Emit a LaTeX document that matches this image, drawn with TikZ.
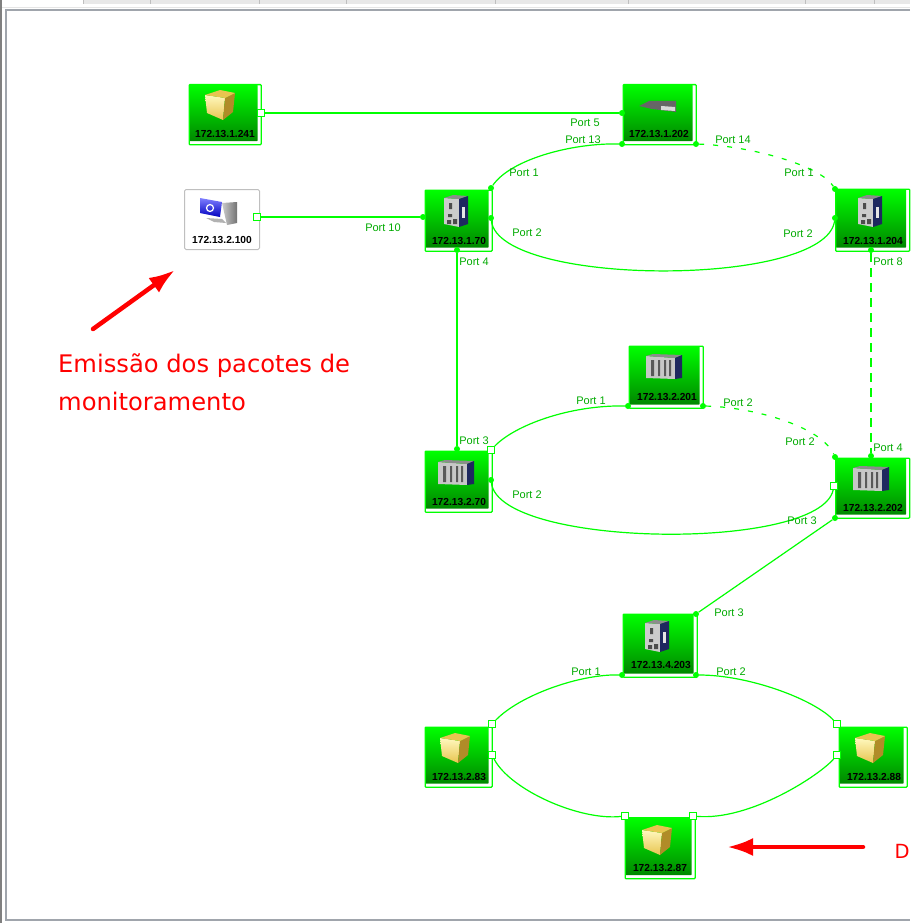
\documentclass[tikz,border=0pt]{standalone}
\usepackage{fontspec}
\setmainfont{Liberation Sans}
\newfontfamily\notefont{DejaVu Sans}
\usetikzlibrary{arrows.meta}
\definecolor{linkgreen}{RGB}{0,255,0}
\definecolor{portgreen}{RGB}{0,170,0}
\definecolor{framegray}{RGB}{160,165,172}
\definecolor{tabgray}{RGB}{232,232,232}
\definecolor{cubelight}{RGB}{255,248,190}
\definecolor{cubemid}{RGB}{232,196,80}
\definecolor{cubedark}{RGB}{176,140,40}
\definecolor{rackblue}{RGB}{30,40,95}
\begin{document}
\begin{tikzpicture}[
        x=1pt, y=-1pt,
        hostbox/.style={rectangle, draw=linkgreen, line width=1.3pt, rounded corners=.8pt, fill=white, anchor=north west, inner sep=0pt,
            path picture={\shade[top color=linkgreen, bottom color=green!50!black] (path picture bounding box.north west) rectangle ([xshift=-3.5pt,yshift=3.5pt]path picture bounding box.south east);}},
        pcbox/.style={rectangle, draw=black!25, line width=1pt, rounded corners=1.5pt, fill=white, anchor=north west, inner sep=0pt},
        hostlabel/.style={font=\fontsize{10.2}{11}\selectfont\bfseries, text=black, inner sep=0pt},
        portlabel/.style={font=\fontsize{11}{12}\selectfont, text=portgreen, inner sep=0pt},
        portdot/.style={circle, fill=linkgreen, minimum size=6pt, inner sep=0pt},
        portopen/.style={rectangle, draw=linkgreen, fill=white, line width=1.2pt, minimum size=6.5pt, inner sep=0pt},
        link/.style={draw=linkgreen, line width=1.2pt},
        linkdash/.style={link, dash pattern=on 5pt off 9pt},
        callout/.style={draw=red, line width=4.5pt, line cap=round, -{Latex[length=26pt,width=18pt]}},
        note/.style={font=\fontsize{24.2}{28}\selectfont\notefont, text=red, inner sep=0pt, anchor=west},
        pics/cube/.style={code={
            \shade[top color=cubelight, bottom color=cubemid] (-15,-10) -- (5,-7) -- (3,15) -- (-13,8) -- cycle;
            \fill[cubedark] (5,-7) -- (15,-12) -- (13,7) -- (3,15) -- cycle;
            \fill[cubemid] (-15,-10) -- (0,-15) -- (15,-12) -- (5,-7) -- cycle;
        }},
        pics/rack/.style={code={
            \fill[black!22] (-17,-12) -- (12,-10) -- (12,11) -- (-17,10) -- cycle;
            \fill[black!45] (-17,-12) -- (-10,-14) -- (19,-13) -- (12,-10) -- cycle;
            \fill[black!65] (-12,-8) rectangle (-9,8) (-5,-8) rectangle (-3,8) (1,-8) rectangle (3,8) (6,-8) rectangle (8,8);
            \fill[rackblue] (12,-10) -- (19,-13) -- (19,10) -- (12,11) -- cycle;
        }},
        pics/din/.style={code={
            \fill[black!20] (-12,-14) -- (3,-13) -- (3,15) -- (-12,12) -- cycle;
            \fill[black!45] (-12,-14) -- (-3,-17) -- (12,-16) -- (3,-13) -- cycle;
            \fill[rackblue] (3,-13) -- (12,-16) -- (12,12) -- (3,15) -- cycle;
            \fill[black!10] (6,-5) rectangle (9,6);
            \fill[black!70] (-7,-9) rectangle (-4,-3) (-8,2) rectangle (-4,5) (-9,8) rectangle (-5,12) (-3,7) rectangle (1,12);
        }},
        pics/flatswitch/.style={code={
            \fill[black!60] (-18,0) -- (-8,-5) -- (19,-5) -- (19,6) -- (-5,3) -- cycle;
            \fill[black!15] (4,0) -- (18,1) -- (18,5) -- (4,4) -- cycle;
        }},
        pics/monitor/.style={code={
            \shade[left color=black!20, right color=black!55] (4,-8) -- (19,-9) -- (19,12) -- (9,14) -- cycle;
            \fill[black!30] (-12,7) -- (4,8) -- (8,12) -- (-4,11) -- cycle;
            \shade[top color=blue!50!white, bottom color=blue!75!black] (-18,-13) -- (4,-9) -- (2,6) -- (-18,2) -- cycle;
            \draw[white, line width=1.2pt] (-8,-3) circle (3.5);
        }}
    ]
    \useasboundingbox (0,0) rectangle (910,923);

    % Window frame
    \fill[tabgray] (83,0) rectangle (910,4);
    \foreach \tabx in {83,150,259,346,495,628,805,874}
        \draw[black!25, line width=.6pt] (\tabx,0) -- (\tabx,4);
    \draw[black!10, line width=.8pt] (0,7) -- (910,7);
    \draw[framegray, line width=2pt] (910,10.5) -- (6,10.5) -- (6,920) -- (910,920);
    \draw[black!50, line width=2pt] (1,0) -- (1,923);

    % Hosts on top
    \node[hostbox, minimum width=72pt, minimum height=60pt] (hostA) at (188.5,84) {};
    \node[hostbox, minimum width=73pt, minimum height=60pt] (hostB) at (622.5,84) {};
    \node[pcbox, minimum width=75pt, minimum height=60pt] (monitorpc) at (184,189) {};
    \node[hostbox, minimum width=67pt, minimum height=61pt] (ringoneA) at (424.5,189.5) {};
    \node[hostbox, minimum width=74pt, minimum height=62pt] (ringoneB) at (835,188.5) {};

    % Middle ring
    \node[hostbox, minimum width=74pt, minimum height=62pt] (ringtwoT) at (628.5,345.5) {};
    \node[hostbox, minimum width=67pt, minimum height=61pt] (ringtwoA) at (424.5,450.5) {};
    \node[hostbox, minimum width=74pt, minimum height=60pt] (ringtwoB) at (835,457.5) {};

    % Bottom ring
    \node[hostbox, minimum width=74pt, minimum height=63pt] (ringthreeT) at (622.5,613.5) {};
    \node[hostbox, minimum width=67pt, minimum height=60pt] (ringthreeA) at (424.5,726.5) {};
    \node[hostbox, minimum width=68pt, minimum height=60pt] (ringthreeB) at (838.5,726.5) {};
    \node[hostbox, minimum width=70pt, minimum height=61pt] (ringthreeC) at (624.5,817) {};

    % Icons
    \pic at (220,105) {cube};
    \pic at (657,106) {flatswitch};
    \pic at (218,211) {monitor};
    \pic at (456,212) {din};
    \pic at (870,212) {din};
    \pic at (663,368) {rack};
    \pic at (455,474) {rack};
    \pic at (870,480) {rack};
    \pic at (657,637) {din};
    \pic at (455,748) {cube};
    \pic at (870,748) {cube};
    \pic at (657,840) {cube};

    % Host labels
    \node[hostlabel] (labelA) at (225,134) {172.13.1.241};
    \node[hostlabel] (labelB) at (659,134) {172.13.1.202};
    \node[hostlabel] (labelpc) at (222,240) {172.13.2.100};
    \node[hostlabel] (labelC) at (459,241) {172.13.1.70};
    \node[hostlabel] (labelD) at (873,241) {172.13.1.204};
    \node[hostlabel] (labelE) at (667,397) {172.13.2.201};
    \node[hostlabel] (labelF) at (459,502) {172.13.2.70};
    \node[hostlabel] (labelG) at (873,508) {172.13.2.202};
    \node[hostlabel] (labelH) at (661,665) {172.13.4.203};
    \node[hostlabel] (labelI) at (459,777) {172.13.2.83};
    \node[hostlabel] (labelJ) at (874,777) {172.13.2.88};
    \node[hostlabel] (labelK) at (660,868) {172.13.2.87};

    % Ports
    \node[portopen] (pA) at (261,113) {};
    \node[portdot] (pB) at (622,113) {};
    \node[portopen] (pC) at (257,217) {};
    \node[portdot] (pD) at (423,217) {};
    \node[portdot] (pE) at (491,188) {};
    \node[portdot] (pF) at (491,218) {};
    \node[portdot] (pG) at (457,250) {};
    \node[portdot] (pH) at (622,144) {};
    \node[portdot] (pI) at (696,144) {};
    \node[portdot] (pJ) at (835,189) {};
    \node[portdot] (pK) at (835,218) {};
    \node[portdot] (pL) at (871,250) {};
    \node[portdot] (pM) at (457,449) {};
    \node[portopen] (pN) at (491,450) {};
    \node[portdot] (pO) at (491,480) {};
    \node[portdot] (pP) at (628,406) {};
    \node[portdot] (pQ) at (703,406) {};
    \node[portdot] (pR) at (835,457) {};
    \node[portdot] (pS) at (871,456) {};
    \node[portopen] (pT) at (834,486) {};
    \node[portdot] (pU) at (835,518) {};
    \node[portdot] (pV) at (696,614) {};
    \node[portdot] (pW) at (622,675) {};
    \node[portdot] (pX) at (696,675) {};
    \node[portopen] (pY) at (492,724) {};
    \node[portopen] (pZ) at (492,755) {};
    \node[portopen] (qA) at (837,724) {};
    \node[portopen] (qB) at (837,755) {};
    \node[portopen] (qC) at (625,816) {};
    \node[portopen] (qD) at (693,816) {};

    % Links
    \draw[link] (pA) -- (pB);
    \draw[link] (pC) -- (pD);
    \draw[link] (pE) .. controls (510,160) and (570,143) .. (pH);
    \draw[linkdash] (pI) .. controls (750,146) and (820,165) .. (pJ);
    \draw[link] (pF) .. controls (500,287) and (825,288) .. (pK);
    \draw[link] (pG) -- (pM);
    \draw[linkdash, dash pattern=on 9pt off 6pt] (pL) -- (pS);
    \draw[link] (pN) .. controls (515,425) and (570,405) .. (pP);
    \draw[linkdash] (pQ) .. controls (750,407) and (820,425) .. (pR);
    \draw[link] (pO) .. controls (500,548) and (820,552) .. (pT);
    \draw[link] (pU) -- (pV);
    \draw[link] (pY) .. controls (520,695) and (580,674) .. (pW);
    \draw[link] (pX) .. controls (750,675) and (815,700) .. (qA);
    \draw[link] (pZ) .. controls (510,790) and (580,821) .. (qC);
    \draw[link] (qD) .. controls (750,821) and (820,775) .. (qB);

    % Port names
    \node[portlabel] (nA) at (585,123) {Port 5};
    \node[portlabel] (nB) at (583,140) {Port 13};
    \node[portlabel] (nC) at (733,140) {Port 14};
    \node[portlabel] (nD) at (524,173) {Port 1};
    \node[portlabel] (nE) at (527,233) {Port 2};
    \node[portlabel] (nF) at (799,173) {Port 1};
    \node[portlabel] (nG) at (798,234) {Port 2};
    \node[portlabel] (nH) at (888,262) {Port 8};
    \node[portlabel] (nI) at (383,228) {Port 10};
    \node[portlabel] (nJ) at (474,262) {Port 4};
    \node[portlabel] (nK) at (474,441) {Port 3};
    \node[portlabel] (nL) at (591,401) {Port 1};
    \node[portlabel] (nM) at (738,403) {Port 2};
    \node[portlabel] (nN) at (800,442) {Port 2};
    \node[portlabel] (nO) at (888,448) {Port 4};
    \node[portlabel] (nP) at (527,495) {Port 2};
    \node[portlabel] (nQ) at (802,521) {Port 3};
    \node[portlabel] (nR) at (729,613) {Port 3};
    \node[portlabel] (nS) at (586,672) {Port 1};
    \node[portlabel] (nT) at (731,672) {Port 2};

    % Notes in red
    \coordinate (arrowAs) at (93,329);
    \coordinate (arrowAe) at (175,270);
    \coordinate (arrowBs) at (863,847);
    \coordinate (arrowBe) at (727,847);
    \draw[callout] (arrowAs) -- (arrowAe);
    \draw[callout] (arrowBs) -- (arrowBe);
    \node[note] (noteA) at (58,366) {Emissão dos pacotes de};
    \node[note] (noteB) at (58,401) {monitoramento};
    \node[note, font=\fontsize{19.5}{24}\selectfont\notefont] (noteC) at (894.5,851) {D};

    \end{tikzpicture}
\end{document}
